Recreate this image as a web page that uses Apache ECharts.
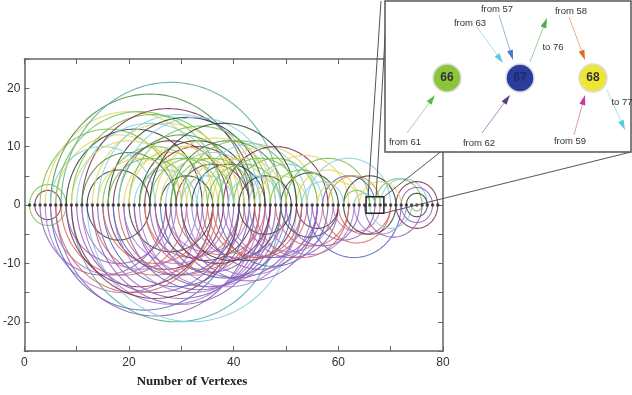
<!DOCTYPE html>
<html>
<head>
<meta charset="utf-8">
<style>
  html, body { margin: 0; padding: 0; background: #fff; }
  #chart { width: 632px; height: 395px; }
</style>
<script src="https://cdn.jsdelivr.net/npm/echarts@6/dist/echarts.min.js"></script>
</head>
<body>
<div id="chart"></div>
<script>
// vertex positions along the axis
const vertices = [1, 2, 3, 4, 5, 6, 7, 8, 9, 10, 11, 12, 13, 14, 15, 16, 17, 18, 19, 20,
  21, 22, 23, 24, 25, 26, 27, 28, 29, 30, 31, 32, 33, 34, 35, 36, 37, 38, 39, 40,
  41, 42, 43, 44, 45, 46, 47, 48, 49, 50, 51, 52, 53, 54, 55, 56, 57, 58, 59, 60,
  61, 62, 63, 64, 65, 66, 67, 68, 69, 70, 71, 72, 73, 74, 75, 76, 77, 78, 79];

// edges drawn above the axis: [from, to, group]
const upperArcs = [
  [2, 7, 'M'], [1, 8, 'G'], [3, 29, 'G'], [4, 36, 'Y'], [5, 43, 'O'], [7, 49, 'T'],
  [6, 30, 'Y'], [8, 34, 'D'], [9, 40, 'G'], [10, 38, 'C'], [11, 44, 'M'], [12, 24, 'D'],
  [13, 41, 'Y'], [14, 45, 'C'], [15, 35, 'G'], [16, 46, 'D'], [17, 39, 'M'], [18, 42, 'O'],
  [19, 37, 'Y'], [20, 47, 'G'], [21, 33, 'C'], [22, 44, 'D'], [23, 43, 'M'], [24, 40, 'G'],
  [25, 48, 'Y'], [26, 36, 'D'], [27, 45, 'C'], [28, 50, 'O'], [29, 43, 'M'], [30, 52, 'G'],
  [31, 47, 'Y'], [32, 46, 'D'], [33, 54, 'C'], [35, 49, 'G'], [36, 56, 'Y'], [38, 58, 'M'],
  [41, 51, 'D'], [40, 56, 'G'], [43, 57, 'C'], [45, 62, 'Y'], [49, 60, 'D'], [50, 66, 'G'],
  [52, 64, 'Y'], [54, 70, 'C'], [57, 67, 'B'], [58, 68, 'N'], [61, 66, 'G'], [61, 71, 'D'],
  [63, 67, 'C'], [67, 76, 'G'], [68, 77, 'C'], [72, 78, 'P'], [73, 77, 'D'], [71, 79, 'M'],
  [64, 72, 'Y'], [5, 25, 'C'], [6, 38, 'G'], [9, 31, 'Y'], [11, 29, 'O'], [14, 30, 'Y'],
  [16, 32, 'G'], [18, 48, 'C'], [20, 40, 'Y'], [22, 38, 'G'], [24, 52, 'D'], [26, 42, 'Y'],
  [28, 44, 'G'], [30, 40, 'C'], [34, 50, 'Y'], [37, 53, 'G'], [39, 49, 'C'], [44, 54, 'Y'],
  [47, 59, 'G'], [53, 61, 'C'], [56, 64, 'Y']
];

// edges drawn below the axis: [from, to, group]
const lowerArcs = [
  [2, 7, 'M'], [1, 8, 'G'], [3, 27, 'P'], [4, 34, 'V'], [5, 41, 'B'], [6, 44, 'P'],
  [9, 49, 'T'], [12, 52, 'C'], [7, 31, 'R'], [8, 36, 'M'], [10, 40, 'P'], [11, 45, 'V'],
  [12, 24, 'D'], [13, 37, 'R'], [14, 46, 'P'], [15, 43, 'B'], [16, 38, 'M'], [17, 47, 'V'],
  [18, 42, 'R'], [19, 48, 'P'], [20, 36, 'D'], [21, 45, 'K'], [22, 50, 'V'], [23, 41, 'R'],
  [24, 47, 'P'], [25, 44, 'M'], [26, 51, 'B'], [27, 43, 'V'], [28, 53, 'P'], [29, 46, 'R'],
  [30, 49, 'D'], [31, 55, 'V'], [33, 52, 'M'], [34, 56, 'P'], [36, 54, 'R'], [37, 58, 'B'],
  [39, 57, 'V'], [41, 51, 'D'], [42, 60, 'P'], [44, 62, 'R'], [46, 63, 'V'], [49, 60, 'D'],
  [52, 60, 'M'], [54, 72, 'B'], [55, 67, 'P'], [57, 70, 'R'], [59, 68, 'K'], [60, 70, 'R'],
  [61, 71, 'D'], [63, 73, 'V'], [66, 74, 'C'], [71, 79, 'M'], [72, 78, 'P'], [73, 77, 'D'],
  [74, 76, 'G'], [65, 76, 'P'], [5, 29, 'V'], [6, 36, 'R'], [8, 28, 'P'], [9, 41, 'M'],
  [11, 33, 'V'], [13, 47, 'P'], [15, 35, 'R'], [17, 41, 'B'], [19, 39, 'V'], [21, 49, 'P'],
  [23, 45, 'R'], [25, 53, 'V'], [27, 47, 'M'], [30, 56, 'P'], [32, 50, 'V'], [35, 53, 'R'],
  [38, 56, 'P'], [43, 59, 'V'], [48, 62, 'R'], [50, 64, 'P']
];

const groupColors = {
  G: '#74bf4e', Y: '#e2d35e', C: '#86cfe2', T: '#4fae9a', P: '#8c5cb4', V: '#a27ad0',
  M: '#7d2a4e', D: '#2f3b3b', R: '#d2645a', B: '#4f66b8', O: '#4e8a4a', K: '#cc6fa8',
  N: '#e8872e'
};

// inset: nodes and labelled links
const insetNodes = ['66', '67', '68'];
const insetNodeColors = ['#8cc43c', '#2a3c9c', '#eee534'];
const insetLinks = ['from 61', 'from 62', 'from 63', 'from 57', 'to 76', 'from 58', 'from 59', 'to 77'];
const insetLinkColors = ['#5cb84a', '#5a3a8a', '#5bc8e0', '#4a78c0', '#4cae4c', '#e06a20', '#c83a9a', '#5ac8e8'];

// layout of the inset (pixels)
const insetBox = { x: 385, y: 1, w: 246, h: 151 };
const nodePos = [[447, 78], [520, 78], [593, 78]];
// [shaft start, tip, label pos, label align]
const linkPos = [
  [[407, 133], [435, 95], [405, 142], 'center'],
  [[482, 133], [510, 95], [479, 143], 'center'],
  [[477, 27], [503, 63], [470, 23], 'center'],
  [[499, 15], [513, 60], [497, 9], 'center'],
  [[530, 62], [547, 18], [553, 47], 'center'],
  [[569, 17], [585, 60], [571, 11], 'center'],
  [[574, 135], [585, 95], [570, 141], 'center'],
  [[607, 90], [625, 130], [622, 102], 'center']
];

const arcRows = upperArcs.map(a => [a[0], a[1], 1, a[2]])
  .concat(lowerArcs.map(a => [a[0], a[1], -1, a[2]]));

const chart = echarts.init(document.getElementById('chart'));

function renderArc(params, api) {
  const row = arcRows[params.dataIndex];
  const c = (row[0] + row[1]) / 2, r = (row[1] - row[0]) / 2, side = row[2];
  const pts = [];
  for (let k = 0; k <= 60; k++) {
    const t = Math.PI * k / 60;
    pts.push(api.coord([c - r * Math.cos(t), side * r * Math.sin(t)]));
  }
  return {
    type: 'polyline',
    shape: { points: pts },
    style: { stroke: groupColors[row[3]], fill: null, lineWidth: 1.1, opacity: 0.85 }
  };
}

const axisBase = {
  type: 'value',
  axisLine: { show: true, onZero: false, lineStyle: { color: '#666', width: 1.5 } },
  axisTick: { show: true, inside: true, length: 5, lineStyle: { color: '#666' } },
  splitLine: { show: false }
};

chart.setOption({
  animation: false,
  grid: { left: 23, top: 59, width: 420, height: 292 },
  xAxis: [
    Object.assign({}, axisBase, {
      min: 0, max: 80, interval: 10, position: 'bottom',
      axisLabel: { color: '#333', fontSize: 12, margin: 6, fontFamily: 'Liberation Sans',
        formatter: v => (v % 20 === 0 ? v : '') }
    }),
    Object.assign({}, axisBase, {
      min: 0, max: 80, interval: 10, position: 'top', axisLabel: { show: false }
    })
  ],
  yAxis: [
    Object.assign({}, axisBase, {
      min: -25, max: 25, interval: 5, position: 'left',
      axisLabel: { color: '#333', fontSize: 12, margin: 4, fontFamily: 'Liberation Sans',
        formatter: v => (v % 10 === 0 ? v : '') }
    }),
    Object.assign({}, axisBase, {
      min: -25, max: 25, interval: 5, position: 'right', axisLabel: { show: false }
    })
  ],
  series: [
    {
      type: 'custom',
      renderItem: renderArc,
      data: arcRows.map(r => [r[0], r[1], r[2]]),
      encode: { x: [0, 1], y: 2 },
      z: 2
    },
    {
      type: 'scatter',
      data: vertices.map(v => [v, 0]),
      symbolSize: 3.5,
      itemStyle: { color: '#222' },
      z: 5
    }
  ]
});

// zoom square, zoom lines and inset
const p1 = chart.convertToPixel({ gridIndex: 0 }, [65.3, 1.4]);
const p2 = chart.convertToPixel({ gridIndex: 0 }, [68.7, -1.4]);
const lineStyle = { stroke: '#555', lineWidth: 1 };
const gfx = [
  { type: 'rect', shape: { x: p1[0], y: p1[1], width: p2[0] - p1[0], height: p2[1] - p1[1] },
    style: { fill: null, stroke: '#222', lineWidth: 1.5 }, z: 50 },
  { type: 'line', shape: { x1: p1[0] + 2, y1: p1[1], x2: insetBox.x - 4, y2: insetBox.y }, style: lineStyle, z: 50 },
  { type: 'line', shape: { x1: p1[0] + 10, y1: p1[1], x2: insetBox.x + 2, y2: insetBox.y }, style: lineStyle, z: 50 },
  { type: 'line', shape: { x1: p2[0], y1: p1[1], x2: insetBox.x + insetBox.w, y2: insetBox.y }, style: lineStyle, z: 50 },
  { type: 'line', shape: { x1: p2[0], y1: p2[1], x2: insetBox.x + insetBox.w, y2: insetBox.y + insetBox.h }, style: lineStyle, z: 50 },
  { type: 'rect', shape: { x: insetBox.x, y: insetBox.y, width: insetBox.w, height: insetBox.h },
    style: { fill: '#fff', stroke: '#555', lineWidth: 1.5 }, z: 60 }
];

linkPos.forEach((lp, i) => {
  const [s, t, lab] = lp;
  const dx = t[0] - s[0], dy = t[1] - s[1];
  const len = Math.sqrt(dx * dx + dy * dy);
  const ux = dx / len, uy = dy / len;
  const bx = t[0] - ux * 10, by = t[1] - uy * 10;
  gfx.push({ type: 'line', shape: { x1: s[0], y1: s[1], x2: bx, y2: by },
    style: { stroke: insetLinkColors[i], lineWidth: 1, opacity: 0.55 }, z: 61 });
  gfx.push({ type: 'polygon', shape: { points: [
      [t[0], t[1]], [bx - uy * 3, by + ux * 3], [bx + uy * 3, by - ux * 3]] },
    style: { fill: insetLinkColors[i] }, z: 62 });
  gfx.push({ type: 'text', x: lab[0], y: lab[1], z: 63,
    style: { text: insetLinks[i], fill: '#333', font: '9.5px "Liberation Sans"',
      textAlign: lp[3], textVerticalAlign: 'middle' } });
});

insetNodes.forEach((n, i) => {
  gfx.push({ type: 'circle', shape: { cx: nodePos[i][0], cy: nodePos[i][1], r: 14 },
    style: { fill: insetNodeColors[i], stroke: '#ddd', lineWidth: 1.5 }, z: 62 });
  gfx.push({ type: 'text', x: nodePos[i][0], y: nodePos[i][1], z: 63,
    style: { text: n, fill: i === 1 ? '#1c2a66' : '#333', font: 'bold 12px "Liberation Sans"',
      textAlign: 'center', textVerticalAlign: 'middle' } });
});

gfx.push({ type: 'text', x: 192, y: 382, z: 63,
  style: { text: 'Number of Vertexes', fill: '#222', font: 'bold 13px "Liberation Serif"',
    textAlign: 'center', textVerticalAlign: 'middle' } });

chart.setOption({ graphic: gfx });
</script>
</body>
</html>
